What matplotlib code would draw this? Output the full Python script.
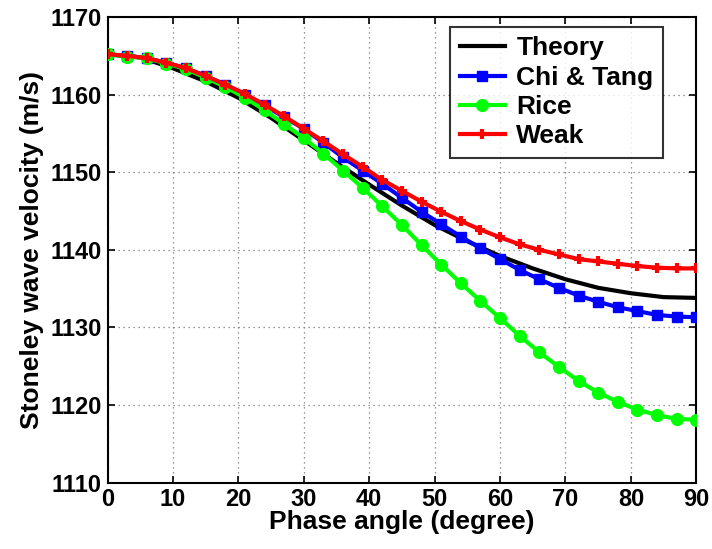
import matplotlib
matplotlib.use("Agg")
import matplotlib.pyplot as plt
import numpy as np

plt.rcParams['font.family'] = ['Liberation Sans', 'DejaVu Sans']
plt.rcParams['font.weight'] = 'bold'

# Theory curve (every 5 degrees)
theory_angle = [0, 5, 10, 15, 20, 25, 30, 35, 40, 45, 50, 55, 60, 65, 70, 75, 80, 85, 90]
theory_vel = [1165.2, 1164.8, 1163.4, 1161.7, 1159.6, 1157.0, 1154.1, 1151.2, 1148.4, 1145.7,
              1143.2, 1141.1, 1139.2, 1137.6, 1136.2, 1135.1, 1134.4, 1133.9, 1133.8]

# Approximations sampled every 3 degrees
angle = list(range(0, 91, 3))
chi_tang = [1165.2, 1165.0, 1164.7, 1164.1, 1163.4, 1162.4, 1161.3, 1160.0, 1158.6, 1157.1,
            1155.6, 1153.8, 1151.9, 1150.2, 1148.5, 1146.7, 1144.9, 1143.3, 1141.7, 1140.2,
            1138.8, 1137.4, 1136.2, 1135.1, 1134.1, 1133.3, 1132.6, 1132.1, 1131.6, 1131.4, 1131.3]
rice = [1165.2, 1164.9, 1164.7, 1164.0, 1163.3, 1162.2, 1161.0, 1159.6, 1158.0, 1156.2,
        1154.4, 1152.4, 1150.2, 1148.0, 1145.6, 1143.2, 1140.6, 1138.1, 1135.7, 1133.4,
        1131.2, 1128.9, 1126.8, 1124.9, 1123.1, 1121.6, 1120.4, 1119.4, 1118.7, 1118.2, 1118.1]
weak = [1165.2, 1165.0, 1164.7, 1164.1, 1163.4, 1162.4, 1161.3, 1160.1, 1158.7, 1157.2,
        1155.6, 1154.0, 1152.3, 1150.7, 1149.0, 1147.6, 1146.2, 1144.9, 1143.7, 1142.6,
        1141.6, 1140.7, 1140.0, 1139.4, 1138.8, 1138.5, 1138.2, 1137.9, 1137.7, 1137.6, 1137.6]

xticks = [0, 10, 20, 30, 40, 50, 60, 70, 80, 90]
yticks = [1110, 1120, 1130, 1140, 1150, 1160, 1170]

fig = plt.figure(figsize=(7.12, 5.49), dpi=100)
ax = fig.add_axes([0.151, 0.121, 0.827, 0.848])

ax.plot(theory_angle, theory_vel, color='black', lw=3, label='Theory', zorder=3)
ax.plot(angle, chi_tang, color='#0000ff', lw=3, marker='s', ms=7.5, label='Chi & Tang', zorder=4)
ax.plot(angle, rice, color='#00ff00', lw=3, marker='o', ms=8.5, label='Rice', zorder=5)
ax.plot(angle, weak, color='#ff0000', lw=3, marker='+', ms=7, mew=3, label='Weak', zorder=6)

ax.set_xlim(0, 90)
ax.set_ylim(1110, 1170)
ax.set_xticks(xticks)
ax.set_yticks(yticks)
ax.tick_params(direction='in', top=True, right=True, length=5, width=1.2, labelsize=17, pad=4)
for lbl in ax.get_xticklabels() + ax.get_yticklabels():
    lbl.set_fontweight('bold')
ax.grid(True, linestyle=(0, (1, 3)), color='#777777', lw=0.9)
for s in ax.spines.values():
    s.set_linewidth(1.5)

ax.set_xlabel('Phase angle (degree)', fontsize=19, fontweight='bold', labelpad=-1)
ax.set_ylabel('Stoneley wave velocity (m/s)', fontsize=19, fontweight='bold', labelpad=5)

leg = ax.legend(loc='upper right', bbox_to_anchor=(0.943, 0.978), fontsize=19, frameon=True,
                fancybox=False, edgecolor='black', handlelength=1.7, borderpad=0.35,
                labelspacing=0.2, handletextpad=0.45, borderaxespad=0)
leg.get_frame().set_linewidth(1.5)
for t in leg.get_texts():
    t.set_fontweight('bold')

fig.savefig('out.png', dpi=100)
